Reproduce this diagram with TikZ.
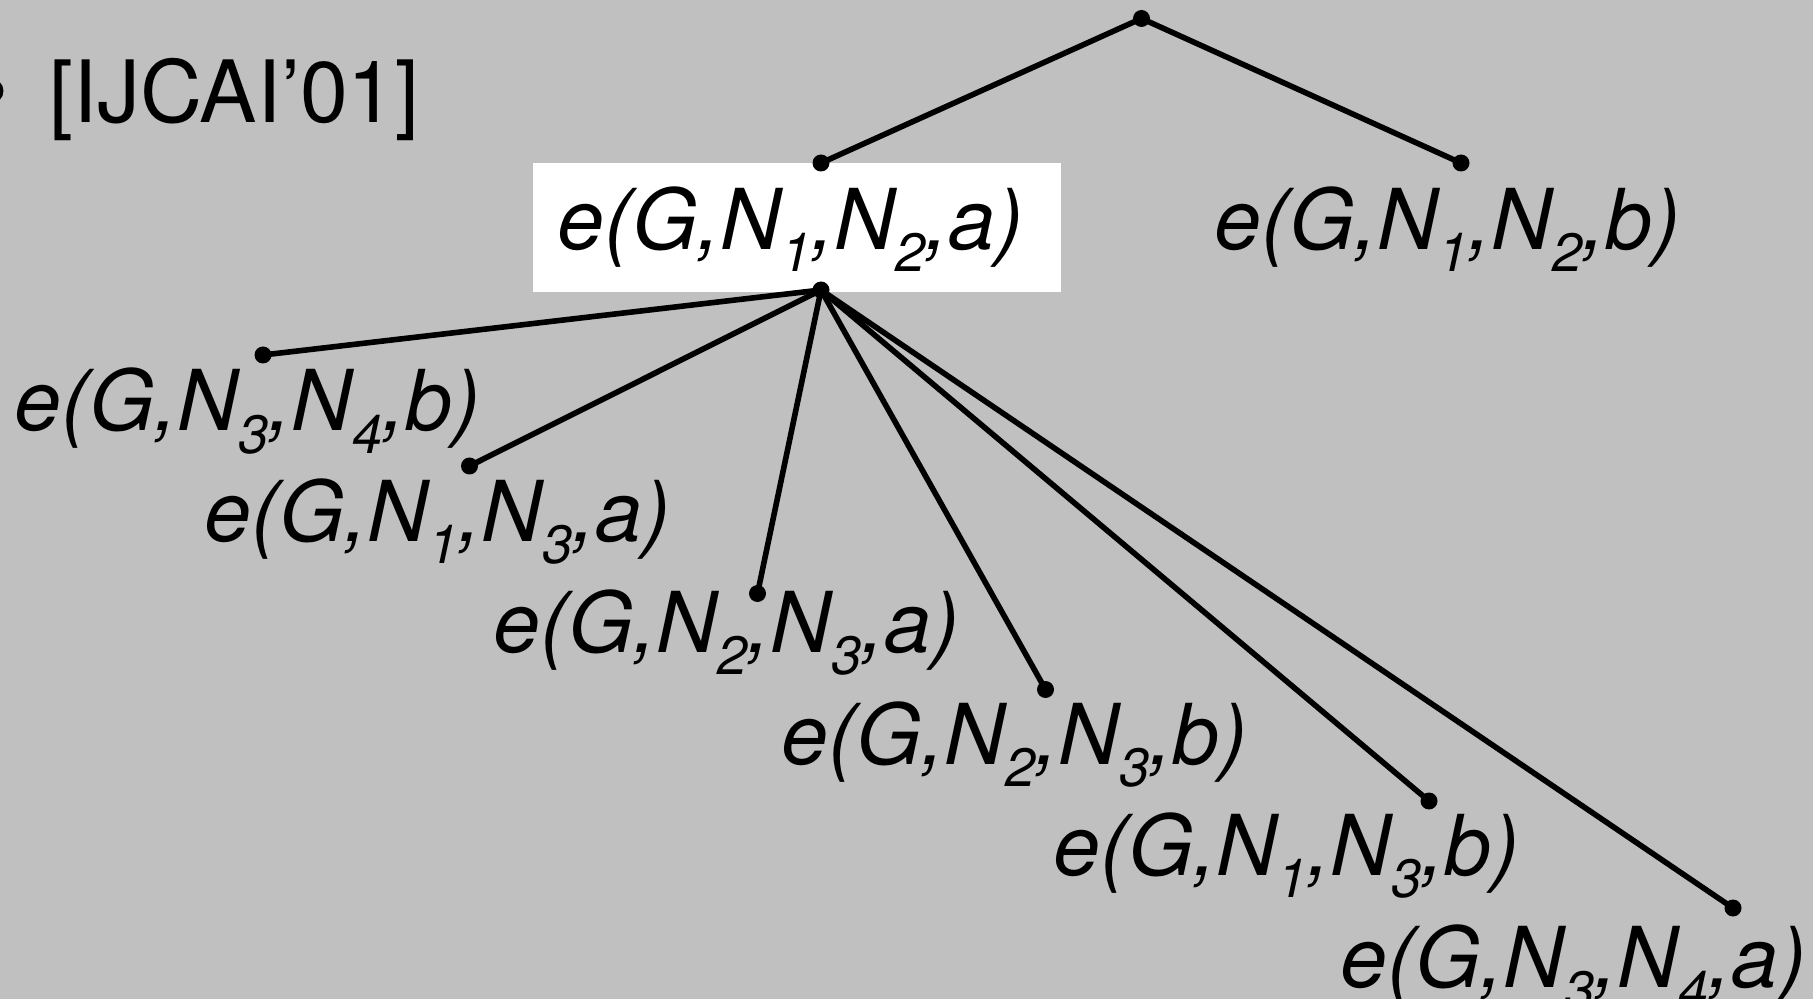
\documentclass[tikz,border=0pt]{standalone}
\usepackage{fontspec}
\setmainfont{TeX Gyre Heros}
\definecolor{slidegray}{RGB}{192,192,192}
% lowered index digit inside a term label
\newcommand{\lowidx}[1]{\raisebox{-11pt}{\fontsize{27}{27}\selectfont #1}}
\begin{document}
\begin{tikzpicture}[x=0.5pt,y=-0.5pt,
  term/.style={anchor=base west, inner sep=0pt, font=\fontsize{42}{42}\selectfont\itshape},
  plain/.style={anchor=base west, inner sep=0pt, font=\fontsize{43}{43}\selectfont},
  edge/.style={line width=2.8pt},
  dot/.style={circle, fill=black, inner sep=0pt, minimum size=8.5pt}]
  \useasboundingbox (0,0) rectangle (1813,999);
  \clip (0,0) rectangle (1813,999);
  \fill[slidegray] (0,0) rectangle (1813,999);

  % bullet and reference tag
  \node[circle, fill=black, inner sep=0pt, minimum size=12.5pt] (bullet) at (-9,91) {};
  \node[plain] (ref) at (49,123) {[IJCAI’01]};

  % highlighted branch
  \node[fill=white, inner sep=0pt, minimum width=264pt, minimum height=64.3pt] (selbox) at (797,227.4) {};

  % branching points
  \node[dot] (root) at (1141.5,18.5) {};
  \node[dot] (ta) at (821,163) {};
  \node[dot] (tb) at (1461,163) {};
  \node[dot] (ba) at (821,290) {};
  \node[dot] (c1) at (263,355) {};
  \node[dot] (c2) at (469.5,466) {};
  \node[dot] (c3) at (757.5,593.5) {};
  \node[dot] (c4) at (1045.5,689.5) {};
  \node[dot] (c5) at (1429,801) {};
  \node[dot] (c6) at (1733,908) {};

  % connectors
  \draw[edge] (root.center) -- (ta.center);
  \draw[edge] (root.center) -- (tb.center);
  \foreach \c in {c1,c2,c3,c4,c5,c6}
    \draw[edge] (ba.center) -- (\c.center);

  % term labels
  \node[term] (la) at (557,250) {e(G,N\lowidx{1},N\lowidx{2},a)};
  \node[term] (lb) at (1214,250) {e(G,N\lowidx{1},N\lowidx{2},b)};
  \node[term] (l1) at (14,431) {e(G,N\lowidx{3},N\lowidx{4},b)};
  \node[term] (l2) at (204,541) {e(G,N\lowidx{1},N\lowidx{3},a)};
  \node[term] (l3) at (493,652) {e(G,N\lowidx{2},N\lowidx{3},a)};
  \node[term] (l4) at (781,764) {e(G,N\lowidx{2},N\lowidx{3},b)};
  \node[term] (l5) at (1053,875) {e(G,N\lowidx{1},N\lowidx{3},b)};
  \node[term] (l6) at (1340,987) {e(G,N\lowidx{3},N\lowidx{4},a)};
\end{tikzpicture}
\end{document}
